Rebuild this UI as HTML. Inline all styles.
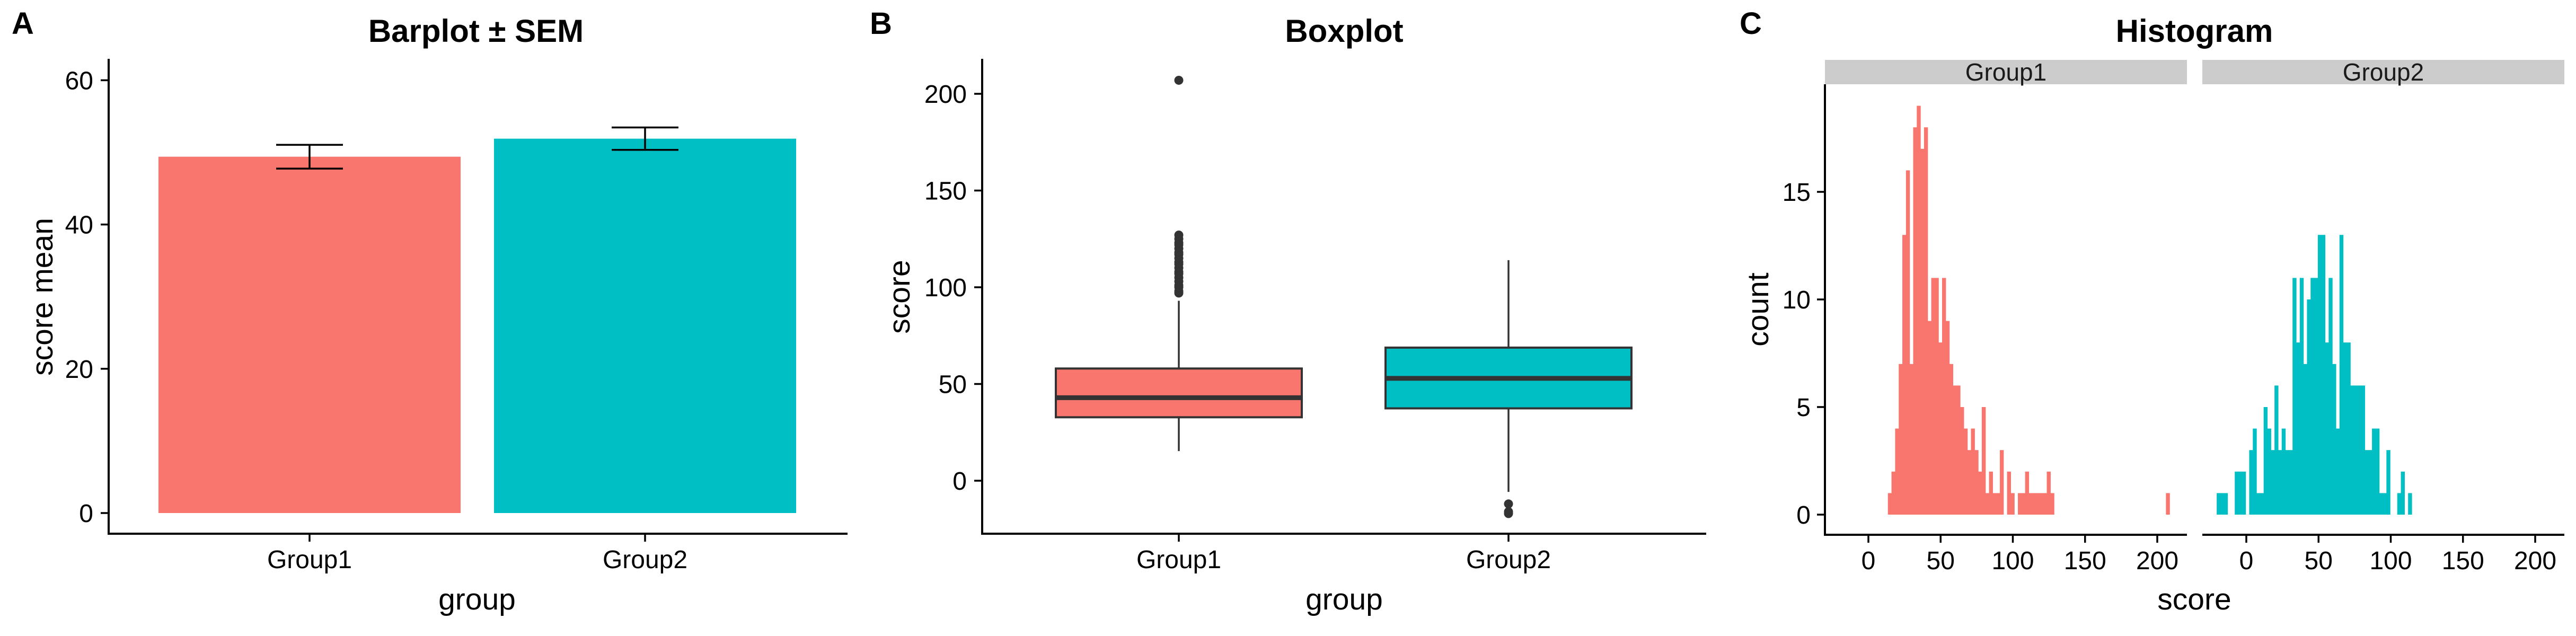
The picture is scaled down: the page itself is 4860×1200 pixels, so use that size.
<!DOCTYPE html>
<html><head><meta charset="utf-8"><style>
html,body{margin:0;padding:0;background:#fff;}
svg{display:block;font-family:"Liberation Sans",Arial,sans-serif;}
</style></head><body>
<svg id="fig" width="4860" height="1200" viewBox="0 0 4860 1200" xmlns="http://www.w3.org/2000/svg">
<rect width="4860" height="1200" fill="#fff"/>
<g id="pA"></g>
<g id="pB"></g>
<g id="pC"></g>
</svg>
<script>
// ---- data ----
const groups = ["Group1","Group2"];
const colors = ["#F8766D","#00BFC4"];
const barMeans = [49.4, 51.9];
const barSEM = [1.65, 1.55];
const barTicks = [0,20,40,60];
const boxQ1 = [32.8, 37.4];
const boxMedian = [42.9, 52.9];
const boxQ3 = [58.0, 68.8];
const whiskerLow = [15.3, -5.8];
const whiskerHigh = [93, 114];
const outliers1 = [97,98,100,101,103,105,107,108,110,112,113,115,117,118,120,122,123,125,127,207];
const outliers2 = [-12,-16,-17];
const boxTicks = [0,50,100,150,200];
const histBinWidth = 2.5;
const histStart1 = 13.5;
const histStart2 = -20.5;
const histCounts1 = [1,2,4,7,13,16,7,18,19,17,18,9,11,11,8,11,9,7,6,6,5,4,3,4,3,2,5,1,2,1,1,3,0,2,1,0,1,1,2,1,1,1,1,1,2,1,0,0,0,0,0,0,0,0,0,0,0,0,0,0,0,0,0,0,0,0,0,0,0,0,0,0,0,0,0,0,0,1];
const histCounts2 = [1,1,1,0,0,2,2,2,0,3,4,1,1,5,4,3,6,3,4,3,3,11,8,11,7,10,11,11,13,13,8,11,7,4,13,8,8,6,6,6,6,3,3,4,4,1,1,3,0,0,1,2,0,1];
const histYTicks = [0,5,10,15];
const histXTicks = [0,50,100,150,200];

const NS="http://www.w3.org/2000/svg";
function mk(parent, tag, attrs, text){
  const e=document.createElementNS(NS,tag);
  for(const k in attrs) e.setAttribute(k,attrs[k]);
  if(text!==undefined) e.textContent=text;
  parent.appendChild(e); return e;
}
const TICK=48, TITLE=57, MAIN=60;

// ---------- Panel A ----------
const A=document.getElementById('pA');
const yA=v=>968-v*13.61;
const xA=[584,1217];
let t=mk(A,'text',{x:22,y:64,'font-size':58,'font-weight':'bold'},'A');
 
t=mk(A,'text',{x:898,y:79,'font-size':MAIN,'font-weight':'bold','text-anchor':'middle'},'Barplot ± SEM');
 
groups.forEach((g,i)=>{
  const r=mk(A,'rect',{x:xA[i]-285,y:yA(barMeans[i]),width:570,height:yA(0)-yA(barMeans[i]),fill:colors[i]});
   
  const eb=mk(A,'path',{d:`M${xA[i]-63},${yA(barMeans[i]+barSEM[i])}H${xA[i]+63}M${xA[i]},${yA(barMeans[i]+barSEM[i])}V${yA(barMeans[i]-barSEM[i])}M${xA[i]-63},${yA(barMeans[i]-barSEM[i])}H${xA[i]+63}`,stroke:'#000','stroke-width':3.5,fill:'none'});
   
  mk(A,'line',{x1:xA[i],x2:xA[i],y1:1007,y2:1022,stroke:'#000','stroke-width':3.5});
  const l=mk(A,'text',{x:xA[i],y:1072,'font-size':TICK,'text-anchor':'middle'},g);
   
});
barTicks.forEach(v=>{
  mk(A,'line',{x1:190,x2:205,y1:yA(v),y2:yA(v),stroke:'#000','stroke-width':3.5});
  const l=mk(A,'text',{x:176,y:yA(v)+17,'font-size':TICK,'text-anchor':'end'},v);
   
});
t=mk(A,'path',{d:'M205,111V1007H1599',stroke:'#000','stroke-width':4,fill:'none'});
 
t=mk(A,'text',{x:900,y:1150,'font-size':TITLE,'text-anchor':'middle'},'group');
 
t=mk(A,'text',{x:0,y:0,'font-size':TITLE,'text-anchor':'middle',transform:'translate(99,560) rotate(-90)'},'score mean');
 

// ---------- Panel B ----------
const B=document.getElementById('pB');
const yB=v=>907-v*3.65;
const xB=[2224,2846];
t=mk(B,'text',{x:1641,y:64,'font-size':58,'font-weight':'bold'},'B');
 
t=mk(B,'text',{x:2536,y:79,'font-size':MAIN,'font-weight':'bold','text-anchor':'middle'},'Boxplot');
 
const outs=[outliers1,outliers2];
groups.forEach((g,i)=>{
  const c=xB[i];
  const w=mk(B,'path',{d:`M${c},${yB(whiskerHigh[i])}V${yB(boxQ3[i])}M${c},${yB(boxQ1[i])}V${yB(whiskerLow[i])}`,stroke:'#333','stroke-width':3.5});
   
  const r=mk(B,'rect',{x:c-232,y:yB(boxQ3[i]),width:464,height:yB(boxQ1[i])-yB(boxQ3[i]),fill:colors[i],stroke:'#333','stroke-width':4});
   
  const m=mk(B,'line',{x1:c-232,x2:c+232,y1:yB(boxMedian[i]),y2:yB(boxMedian[i]),stroke:'#333','stroke-width':9});
   
  outs[i].forEach(v=>{
    const p=mk(B,'circle',{cx:c,cy:yB(v),r:8.5,fill:'#333'});
     
  });
  mk(B,'line',{x1:c,x2:c,y1:1007,y2:1022,stroke:'#000','stroke-width':3.5});
  const l=mk(B,'text',{x:c,y:1072,'font-size':TICK,'text-anchor':'middle'},g);
   
});
boxTicks.forEach(v=>{
  mk(B,'line',{x1:1838,x2:1853,y1:yB(v),y2:yB(v),stroke:'#000','stroke-width':3.5});
  const l=mk(B,'text',{x:1824,y:yB(v)+17,'font-size':TICK,'text-anchor':'end'},v);
   
});
t=mk(B,'path',{d:'M1853,111V1007H3219',stroke:'#000','stroke-width':4,fill:'none'});
 
t=mk(B,'text',{x:2536,y:1150,'font-size':TITLE,'text-anchor':'middle'},'group');
 
t=mk(B,'text',{x:0,y:0,'font-size':TITLE,'text-anchor':'middle',transform:'translate(1716,560) rotate(-90)'},'score');
 

// ---------- Panel C ----------
const C=document.getElementById('pC');
const yC=c=>971-c*40.6;
const facetX=[v=>3525+v*2.725, v=>4238+v*2.725];
const facetL=[3443,4155], facetR=[4126,4838];
const hc=[histCounts1,histCounts2], hs=[histStart1,histStart2];
t=mk(C,'text',{x:3282,y:64,'font-size':58,'font-weight':'bold'},'C');
 
t=mk(C,'text',{x:4140,y:79,'font-size':MAIN,'font-weight':'bold','text-anchor':'middle'},'Histogram');
 
groups.forEach((g,i)=>{
  const X=facetX[i];
  const s=mk(C,'rect',{x:facetL[i],y:113,width:facetR[i]-facetL[i],height:46,fill:'#cccccc'});
   
  const st=mk(C,'text',{x:(facetL[i]+facetR[i])/2,y:152,'font-size':46,'text-anchor':'middle',fill:'#1a1a1a'},g);
   
  hc[i].forEach((cnt,k)=>{
    if(!cnt) return;
    const x0=X(hs[i]+k*histBinWidth), x1=X(hs[i]+(k+1)*histBinWidth);
    const r=mk(C,'rect',{x:x0,y:yC(cnt),width:x1-x0+0.6,height:yC(0)-yC(cnt),fill:colors[i]});
     
  });
  const ax=mk(C,'line',{x1:facetL[i],x2:facetR[i],y1:1009,y2:1009,stroke:'#000','stroke-width':4});
   
  histXTicks.forEach(v=>{
    mk(C,'line',{x1:X(v),x2:X(v),y1:1009,y2:1024,stroke:'#000','stroke-width':3.5});
    const l=mk(C,'text',{x:X(v),y:1074,'font-size':TICK,'text-anchor':'middle'},v);
     
  });
});
histYTicks.forEach(v=>{
  mk(C,'line',{x1:3428,x2:3443,y1:yC(v),y2:yC(v),stroke:'#000','stroke-width':3.5});
  const l=mk(C,'text',{x:3416,y:yC(v)+17,'font-size':TICK,'text-anchor':'end'},v);
   
});
t=mk(C,'line',{x1:3443,x2:3443,y1:159,y2:1011,stroke:'#000','stroke-width':4});
 
t=mk(C,'text',{x:4140,y:1150,'font-size':TITLE,'text-anchor':'middle'},'score');
 
t=mk(C,'text',{x:0,y:0,'font-size':TITLE,'text-anchor':'middle',transform:'translate(3336,584) rotate(-90)'},'count');
 
</script>
</body></html>
